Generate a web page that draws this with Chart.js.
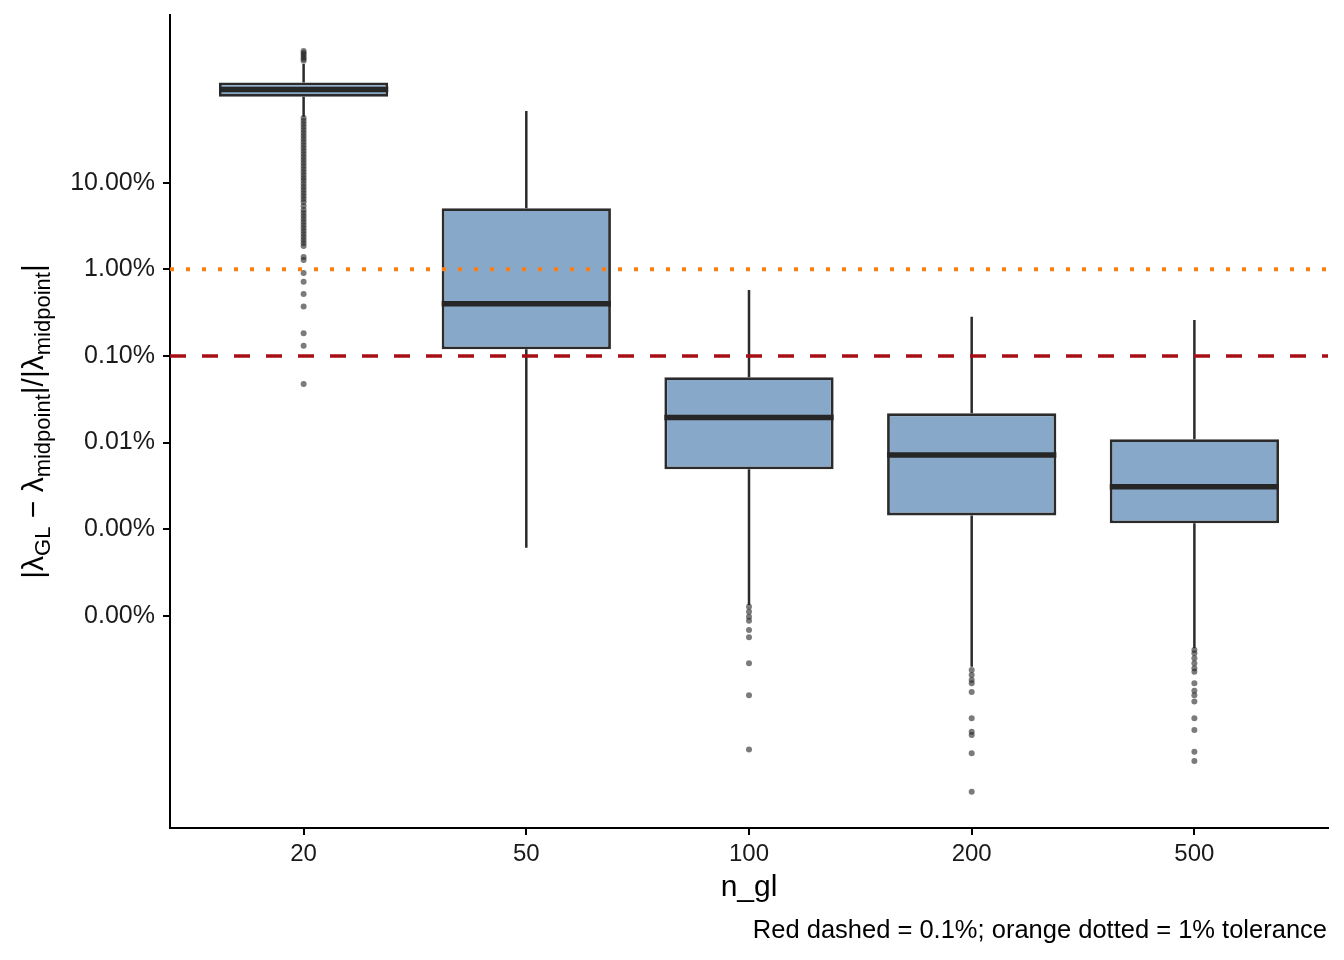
<html>
<head>
    <meta charset="UTF-8">
    <title>n_gl boxplot</title>
    <script src="https://cdn.jsdelivr.net/npm/chart.js"></script>
    <style>
        body { margin: 0; background: #fff; }
    </style>
</head>
<body>
<canvas id="chart" width="1344" height="960"></canvas>

<script>
    // relative error |lambda_GL - lambda_midpoint| / |lambda_midpoint|, as fractions
    const groups = ['20', '50', '100', '200', '500'];
    const whiskLo = [0.578, 0.00000609, 0.00000133, 0.000000258, 0.000000421];
    const q1 = [0.982, 0.00119, 0.000049, 0.0000144, 0.0000117];
    const med = [1.19, 0.00401, 0.000195, 0.0000718, 0.0000309];
    const q3 = [1.436, 0.0506, 0.000566, 0.000217, 0.000109];
    const whiskHi = [2.35, 0.673, 0.00577, 0.00284, 0.0026];

    const out20 = [3.31, 3.15, 2.99, 2.83, 2.69, 2.55,
        0.558, 0.516, 0.477, 0.44, 0.406, 0.375, 0.346, 0.32, 0.295, 0.273, 0.252, 0.232,
        0.215, 0.198, 0.183, 0.169, 0.156, 0.144, 0.133, 0.123, 0.113, 0.105, 0.0966,
        0.0892, 0.0824, 0.0761, 0.0702, 0.0648, 0.0598, 0.0538, 0.0484, 0.0447, 0.0413,
        0.0381, 0.0352, 0.0325, 0.03, 0.0277, 0.0256, 0.0236, 0.0218, 0.0201, 0.0186,
        0.0139, 0.0128, 0.00907, 0.0072, 0.00519, 0.00373, 0.00182, 0.00131, 0.000474];
    const out50 = [];
    const out100 = [1.27e-6, 1.11e-6, 9.73e-7, 8.75e-7, 6.84e-7, 5.63e-7, 2.82e-7, 1.21e-7, 2.86e-8];
    const out200 = [2.36e-7, 2.07e-7, 1.81e-7, 1.66e-7, 1.32e-7, 6.53e-8, 4.57e-8, 4.19e-8, 2.58e-8, 9.29e-9];
    const out500 = [4.02e-7, 3.68e-7, 3.22e-7, 2.82e-7, 2.47e-7, 2.26e-7, 1.66e-7, 1.36e-7,
        1.21e-7, 1.02e-7, 6.53e-8, 4.79e-8, 2.69e-8, 2.1e-8];

    const redLine = 0.001;     // 0.1%
    const orangeLine = 0.01;   // 1%
    const yTicks = [0.1, 0.01, 0.001, 0.0001, 0.00001, 0.000001];
    const yMin = 3.54e-9;
    const yMax = 8.63;

    const xTitle = 'n_gl';
    const caption = 'Red dashed = 0.1%; orange dotted = 1% tolerance';
    const yTitleParts = [
        {t: '|λ'}, {t: 'GL', sub: true}, {t: ' − λ'}, {t: 'midpoint', sub: true},
        {t: '|/|λ'}, {t: 'midpoint', sub: true}, {t: '|'}
    ];

    const fam = '"Liberation Sans", Arial, Helvetica, sans-serif';
    const half = 0.38;

    const allOut = [out20, out50, out100, out200, out500];

    let whiskerPts = [];
    let medianPts = [];
    let outPts = [];
    groups.forEach((g, i) => {
        whiskerPts.push({x: i, y: whiskHi[i]}, {x: i, y: q3[i]}, {x: i, y: null});
        whiskerPts.push({x: i, y: q1[i]}, {x: i, y: whiskLo[i]}, {x: i, y: null});
        medianPts.push({x: i - half, y: med[i]}, {x: i + half, y: med[i]}, {x: i + half, y: null});
        allOut[i].forEach(v => outPts.push({x: i, y: v}));
    });

    const textPlugin = {
        id: 'texts',
        afterDraw(chart) {
            const ctx = chart.ctx;
            const a = chart.chartArea;
            ctx.save();
            ctx.fillStyle = '#000';
            ctx.textBaseline = 'middle';
            ctx.textAlign = 'center';
            ctx.font = '30px ' + fam;
            ctx.fillText(xTitle, (a.left + a.right) / 2, 888);
            ctx.textAlign = 'right';
            ctx.font = '25.5px ' + fam;
            ctx.fillText(caption, 1327, 931);

            // rotated y title with subscripts
            ctx.translate(43, (a.top + a.bottom) / 2);
            ctx.rotate(-Math.PI / 2);
            ctx.textAlign = 'left';
            ctx.textBaseline = 'alphabetic';
            let w = 0;
            yTitleParts.forEach(p => {
                ctx.font = (p.sub ? '22px ' : '30px ') + fam;
                w += ctx.measureText(p.t).width;
            });
            let x = -w / 2;
            yTitleParts.forEach(p => {
                ctx.font = (p.sub ? '22px ' : '30px ') + fam;
                ctx.fillText(p.t, x, p.sub ? 7 : 0);
                x += ctx.measureText(p.t).width;
            });
            ctx.restore();
        }
    };

    const axisBorder = {display: true, color: '#000', width: 2};

    new Chart(document.getElementById('chart'), {
        type: 'bar',
        data: {
            datasets: [
                {
                    type: 'line',
                    data: [{x: -0.6, y: orangeLine}, {x: 4.6, y: orangeLine}],
                    borderColor: '#FF7F0E',
                    borderWidth: 4,
                    borderDash: [4, 12],
                    pointRadius: 0,
                    order: 0
                },
                {
                    type: 'line',
                    data: [{x: -0.6, y: redLine}, {x: 4.6, y: redLine}],
                    borderColor: '#A50F15',
                    borderWidth: 3.5,
                    borderDash: [16, 16],
                    pointRadius: 0,
                    order: 0
                },
                {
                    type: 'line',
                    data: medianPts,
                    borderColor: '#262626',
                    borderWidth: 5.5,
                    pointRadius: 0,
                    spanGaps: false,
                    order: 1
                },
                {
                    type: 'scatter',
                    data: outPts,
                    backgroundColor: 'rgba(35,35,35,0.6)',
                    borderWidth: 0,
                    pointRadius: 3,
                    order: 2
                },
                {
                    type: 'bar',
                    data: groups.map((g, i) => ({x: i, y: [q1[i], q3[i]]})),
                    backgroundColor: '#88A8C9',
                    borderColor: '#2B2B2B',
                    borderWidth: 2.8,
                    borderSkipped: false,
                    barPercentage: 0.76,
                    categoryPercentage: 1,
                    order: 3
                },
                {
                    type: 'line',
                    data: whiskerPts,
                    borderColor: '#2B2B2B',
                    borderWidth: 2.5,
                    pointRadius: 0,
                    spanGaps: false,
                    order: 4
                }
            ]
        },
        options: {
            responsive: false,
            animation: false,
            devicePixelRatio: 1,
            layout: {padding: {top: 15, right: 16, left: 0, bottom: 0}},
            plugins: {legend: {display: false}, tooltip: {enabled: false}},
            scales: {
                x: {
                    type: 'linear',
                    min: -0.6,
                    max: 4.6,
                    offset: false,
                    afterBuildTicks: s => {
                        s.ticks = groups.map((g, i) => ({value: i}));
                    },
                    afterFit: s => {
                        s.height = 132;
                        s.paddingLeft = 0;
                        s.paddingRight = 0;
                    },
                    ticks: {
                        callback: v => groups[v],
                        padding: 5,
                        color: '#1a1a1a',
                        font: {size: 24, family: fam},
                        maxRotation: 0,
                        autoSkip: false
                    },
                    grid: {offset: false, drawOnChartArea: false, drawTicks: true, tickLength: 7, color: '#000', lineWidth: 2},
                    border: axisBorder
                },
                y: {
                    type: 'logarithmic',
                    min: yMin,
                    max: yMax,
                    afterBuildTicks: s => {
                        s.ticks = yTicks.map(v => ({value: v}));
                    },
                    afterFit: s => {
                        s.width = 170;
                        s.paddingTop = 0;
                        s.paddingBottom = 0;
                    },
                    ticks: {
                        callback: v => (v * 100).toFixed(2) + '%',
                        padding: 8,
                        color: '#1a1a1a',
                        font: {size: 25, family: fam},
                        autoSkip: false
                    },
                    grid: {drawOnChartArea: false, drawTicks: true, tickLength: 7, color: '#000', lineWidth: 2},
                    border: axisBorder
                }
            }
        },
        plugins: [textPlugin]
    });
</script>
</body>
</html>
